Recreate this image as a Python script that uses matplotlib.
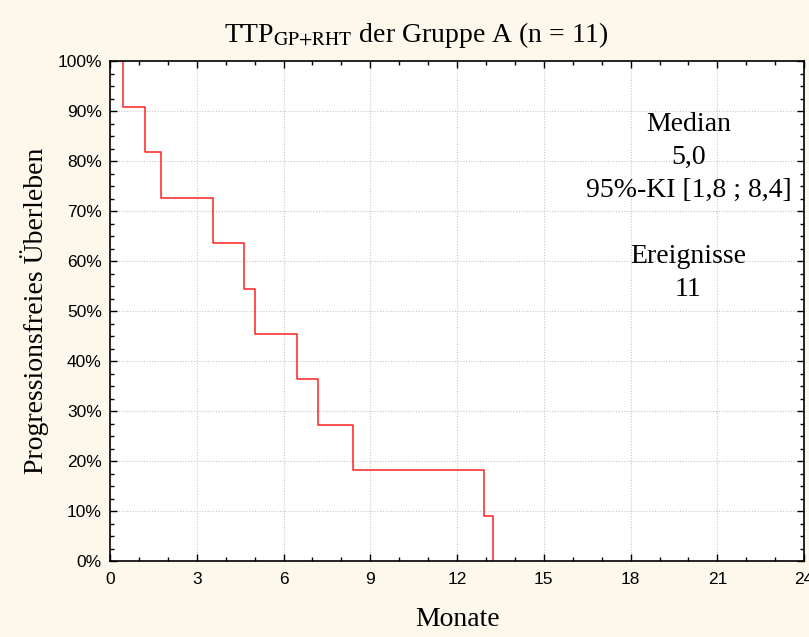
import numpy as np
import matplotlib.pyplot as plt
from matplotlib.ticker import MultipleLocator, FuncFormatter

plt.rcParams['mathtext.fontset'] = 'stix'

# Kaplan-Meier steps (months, survival in %)
event_times = [0.0, 0.45, 1.21, 1.76, 3.56, 4.63, 5.01, 6.47, 7.19, 8.40, 12.93, 13.24]
survival = [100.0, 90.9, 81.8, 72.7, 63.6, 54.5, 45.5, 36.4, 27.3, 18.2, 9.1, 0.0]

x_ticks = [0, 3, 6, 9, 12, 15, 18, 21, 24]
y_ticks = [0, 10, 20, 30, 40, 50, 60, 70, 80, 90, 100]

info_lines = ["Median", "5,0", "95%-KI [1,8 ; 8,4]", "", "Ereignisse", "11"]

bg = '#fdf8ec'
serif = 'Liberation Serif'
sans = 'Liberation Sans'

fig = plt.figure(figsize=(8.09, 6.37), dpi=100, facecolor=bg)
ax = fig.add_axes([0.136, 0.1193, 0.858, 0.7849])
ax.set_facecolor('white')

ax.step(event_times, survival, where='post', color='#ff2020', lw=1.1)

ax.set_xlim(0, 24)
ax.set_ylim(0, 100)
ax.set_xticks(x_ticks)
ax.set_yticks(y_ticks)
ax.xaxis.set_minor_locator(MultipleLocator(1))
ax.yaxis.set_minor_locator(MultipleLocator(2.5))
ax.yaxis.set_major_formatter(FuncFormatter(lambda v, p: '%d%%' % v))
ax.tick_params(which='both', direction='in', top=True, right=True, width=1.0)
ax.tick_params(which='major', length=5, labelsize=12.5)
ax.tick_params(axis='x', which='major', pad=8)
ax.tick_params(axis='y', which='major', pad=6)
ax.tick_params(which='minor', length=3)
for lab in ax.get_xticklabels() + ax.get_yticklabels():
    lab.set_fontfamily(sans)
for s in ax.spines.values():
    s.set_linewidth(1.2)
ax.grid(True, which='major', color='#c8c8c8', ls=(0, (1, 1.5)), lw=0.8)

fig.text(0.5145, 0.945, r'TTP$_{\mathrm{GP{+}RHT}}$ der Gruppe A (n = 11)',
         family=serif, fontsize=20, ha='center', va='center')
ax.set_xlabel('Monate', family=serif, fontsize=20, labelpad=14)
ax.set_ylabel('Progressionsfreies Überleben', family=serif, fontsize=20, labelpad=6)

y0 = 87.3
for i, line in enumerate(info_lines):
    if line:
        ax.text(20.0, y0 - i * 6.6, line, ha='center', va='center',
                family=serif, fontsize=20)

fig.savefig('out.png', dpi=100, facecolor=bg)
